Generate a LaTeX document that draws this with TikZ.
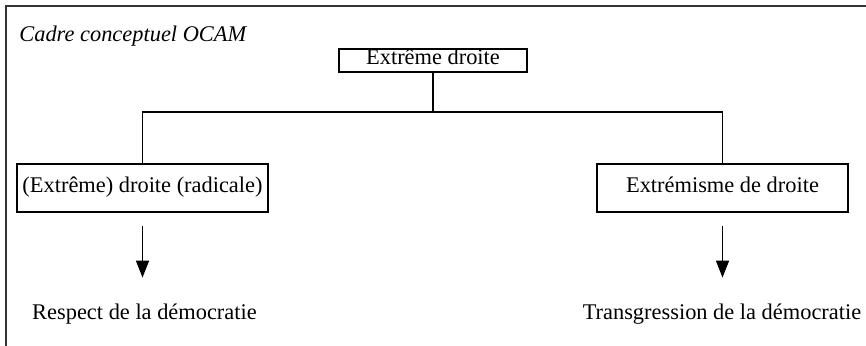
\documentclass[tikz,border=0pt]{standalone}
\usepackage{fontspec}
\setmainfont{Liberation Serif}
\usetikzlibrary{arrows.meta}
\begin{document}
\begin{tikzpicture}[x=0.5pt,y=-0.5pt,
  txt/.style={font=\fontsize{11.2}{13}\selectfont},
  box/.style={txt, draw, line width=0.75pt, inner sep=0pt, text height=8pt, text depth=3.5pt, align=center},
  lbl/.style={txt, inner sep=0pt, text height=8pt, text depth=3.5pt, anchor=base},
  conn/.style={line width=0.75pt},
  arr/.style={line width=0.75pt, -{Triangle[width=6.5pt,length=8.5pt]}, shorten <=6.5pt, shorten >=13pt},
  frame/.style={line width=1pt, draw=black!80}]
\useasboundingbox (0,0) rectangle (866,346);
% frame (only top and left edges visible)
\coordinate (fbl) at (5.5,346);
\coordinate (ftl) at (5.5,6.5);
\coordinate (ftr) at (866,6.5);
\draw[frame] (fbl) -- (ftl) -- (ftr);
% title
\node[anchor=base west, inner sep=0pt, font=\itshape\fontsize{11.2}{13}\selectfont] (title) at (19,42) {Cadre conceptuel OCAM};
% boxes
\node[box, minimum width=94pt, minimum height=11.5pt] (top) at (433,60.5) {Extrême droite};
\node[box, minimum width=125.5pt, minimum height=24pt] (L) at (142.5,188) {(Extrême) droite (radicale)};
\node[box, minimum width=125.5pt, minimum height=24pt] (R) at (722.5,188) {Extrémisme de droite};
% result labels
\node[lbl] (resp) at (144.5,320) {Respect de la démocratie};
\node[lbl] (trans) at (722,320) {Transgression de la démocratie};
% connectors
\coordinate (junc) at (433,112);
\draw[conn] (top.south) -- (junc);
\draw[conn] (L.north) |- (junc) -| (R.north);
\draw[arr] (L.south) -- (L.south |- resp.north);
\draw[arr] (R.south) -- (R.south |- trans.north);
\end{tikzpicture}
\end{document}
